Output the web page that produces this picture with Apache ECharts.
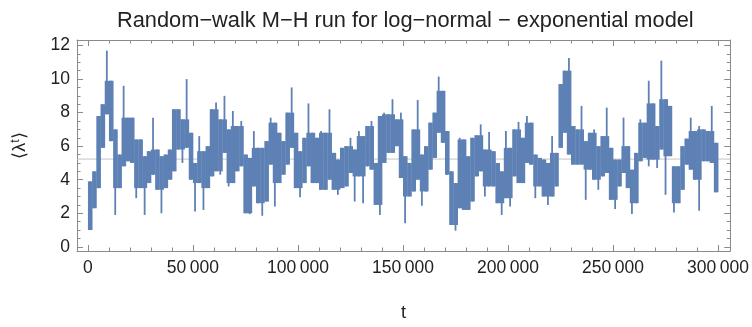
<!DOCTYPE html>
<html><head><meta charset="utf-8">
<script src="https://cdn.jsdelivr.net/npm/echarts@6/dist/echarts.min.js"></script>
<style>html,body{margin:0;padding:0;background:#fff}#c{width:752px;height:327px}</style>
</head><body><div id="c"></div>
<script>
// Segment start times (t) of the trace, each segment spans to the next start
const tStart = [0,2000,4000,6000,8000,10000,12000,14000,16000,18000,20000,22000,24000,26000,28000,30000,32000,34000,36000,38000,
40000,42000,44000,46000,48000,50000,52000,54000,56000,58000,60000,62000,64000,66000,68000,70000,72000,74000,76000,78000,
80000,82000,84000,86000,88000,90000,92000,94000,96000,98000,100000,102000,104000,106000,108000,110000,112000,114000,116000,118000,
120000,122000,124000,126000,128000,130000,132000,134000,136000,138000,140000,142000,144000,146000,148000,150000,152000,154000,156000,158000,
160000,162000,164000,166000,168000,170000,172000,174000,176000,178000,180000,182000,184000,186000,188000,190000,192000,194000,196000,198000,
200000,202000,204000,206000,208000,210000,212000,214000,216000,218000,220000,222000,224000,226000,228000,230000,232000,234000,236000,238000,
240000,242000,244000,246000,248000,250000,252000,254000,256000,258000,260000,262000,264000,266000,268000,270000,272000,274000,276000,278000,
280000,282000,284000,286000,288000,290000,292000,294000,296000,298000];
const tEnd = 300000;
// lowest value reached by the chain within each segment
const lambdaLow = [1.0,2.3,3.5,5.9,7.9,6.3,1.9,3.5,4.8,5.1,5.0,2.9,3.5,1.9,3.8,4.3,3.4,2.0,3.5,4.0,
4.5,5.8,5.0,5.9,4.0,2.1,3.8,2.2,3.5,4.2,4.5,4.3,5.6,3.6,3.8,4.5,4.8,2.0,1.95,3.6,
2.6,1.85,2.7,4.9,2.4,3.8,4.3,4.9,5.9,3.5,2.95,3.8,4.8,3.8,3.8,3.4,3.4,4.0,3.4,3.1,
3.5,3.6,4.4,2.7,4.2,2.6,4.8,4.6,2.5,1.9,5.0,5.6,5.6,6.0,4.1,1.4,3.0,3.3,4.0,2.45,
3.3,4.6,5.3,6.8,6.2,4.3,1.3,0.96,2.3,2.2,2.2,2.7,4.2,4.5,3.0,3.6,3.6,2.6,1.9,2.9,
2.4,4.2,3.8,3.8,5.0,4.9,2.9,3.6,3.0,2.5,3.0,3.6,5.9,6.8,5.5,4.9,4.9,4.9,2.8,4.6,
4.0,3.4,4.2,4.4,2.8,2.25,3.6,4.4,3.5,1.95,2.6,5.1,5.3,4.8,5.2,4.7,5.8,3.1,5.4,2.05,
2.6,3.4,4.9,4.6,4.0,2.15,5.1,5.1,5.0,3.25];
// highest value reached by the chain within each segment
const lambdaHigh = [3.9,4.5,7.8,8.5,11.7,9.9,7.0,5.5,9.6,7.7,7.7,6.4,6.4,5.4,5.7,7.7,5.8,5.4,5.5,5.8,
8.2,8.2,7.6,10.0,6.8,5.0,6.6,5.7,6.0,8.2,8.6,7.6,9.0,7.0,8.1,7.2,7.5,5.5,5.3,6.9,
5.9,5.9,6.3,7.7,7.4,6.8,6.3,8.0,9.5,6.8,5.7,6.5,8.55,6.8,6.5,6.9,6.8,8.2,5.6,5.2,
5.9,6.0,6.5,5.8,6.9,6.6,7.2,7.5,5.0,7.8,8.0,7.9,8.8,7.6,8.0,5.4,5.0,7.0,8.75,5.5,
6.0,7.4,8.0,10.15,9.3,6.9,4.5,3.8,6.5,6.4,5.4,6.5,6.65,7.3,5.8,6.85,5.7,5.0,4.5,6.9,
5.9,7.0,7.45,6.5,7.8,7.4,5.5,5.3,5.2,5.0,6.6,5.6,9.7,10.5,11.25,7.2,7.0,8.4,6.3,6.8,
7.0,6.0,6.6,8.3,5.9,5.2,5.2,7.7,6.0,4.6,5.6,7.6,7.4,9.9,8.55,7.2,11.1,8.8,8.4,4.8,
4.8,6.0,6.45,7.7,6.9,7.2,7.0,6.9,8.4,6.2];
const meanLambda = 5.23;
const xMajor = [0,50000,100000,150000,200000,250000,300000];
const xMinor = [0,10000,20000,30000,40000,50000,60000,70000,80000,90000,100000,110000,120000,130000,140000,150000,160000,170000,180000,190000,200000,210000,220000,230000,240000,250000,260000,270000,280000,290000,300000];
const yMajor = [0,2,4,6,8,10,12];
const yMinor = [0,0.5,1,1.5,2,2.5,3,3.5,4,4.5,5,5.5,6,6.5,7,7.5,8,8.5,9,9.5,10,10.5,11,11.5,12];

const X_MIN = -5200, X_MAX = 305800, Y_MIN = -0.25, Y_MAX = 12.33;
const COLOR = '#5E81B5', FRAME = '#8a8a8a', TXT = '#222';
const FONT = 'Liberation Sans';

const n = tStart.length;
const segData = tStart.map((t, i) => {
  const lp = i > 0 ? lambdaLow[i-1] : lambdaLow[i], ln = i < n-1 ? lambdaLow[i+1] : lambdaLow[i];
  const hp = i > 0 ? lambdaHigh[i-1] : lambdaHigh[i], hn = i < n-1 ? lambdaHigh[i+1] : lambdaHigh[i];
  // dense core of the segment (part shared with a neighbour); the rest are thin excursions
  const coreLo = Math.max(lambdaLow[i], Math.min(lp, ln));
  const coreHi = Math.min(lambdaHigh[i], Math.max(hp, hn));
  return [t, lambdaLow[i], lambdaHigh[i], i + 1 < n ? tStart[i + 1] : tEnd, Math.min(coreLo, coreHi), Math.max(coreLo, coreHi)];
});

function fmt(v){ if (v === 0) return '0'; const s = String(v); return s.slice(0, s.length-3) + '\u2009' + s.slice(-3); }

function xAx(pos, values, len, main) {
  return {type:'value', position:pos, min:X_MIN, max:X_MAX,
    axisLine:{show:main, onZero:false, lineStyle:{color:FRAME, width:1}},
    axisTick:{show:true, inside:true, length:len, customValues:values, lineStyle:{color:FRAME, width:1}},
    axisLabel:{show: main && pos==='bottom', customValues:xMajor, formatter:fmt, color:TXT, fontFamily:FONT, fontSize:17.5, margin:8},
    splitLine:{show:false},
    name: (main && pos==='bottom') ? 't' : '', nameLocation:'middle', nameGap:53,
    nameTextStyle:{color:TXT, fontFamily:FONT, fontSize:18}};
}
function yAx(pos, values, len, main) {
  return {type:'value', position:pos, min:Y_MIN, max:Y_MAX,
    axisLine:{show:main, onZero:false, lineStyle:{color:FRAME, width:1}},
    axisTick:{show:true, inside:true, length:len, customValues:values, lineStyle:{color:FRAME, width:1}},
    axisLabel:{show: main && pos==='left', customValues:yMajor, color:TXT, fontFamily:FONT, fontSize:17.5, margin:7},
    splitLine:{show:false},
    name: (main && pos==='left') ? '{a|\u27E8\u03BB}{s|t}{a|\u27E9}' : '', nameLocation:'middle', nameGap:46, nameRotate:90,
    nameTextStyle:{color:TXT, fontFamily:FONT, fontSize:18, rich:{a:{fontFamily:FONT,fontSize:18,color:TXT}, s:{fontFamily:FONT,fontSize:12,color:TXT,verticalAlign:'top', padding:[0,0,9,0]}}}};
}

const chart = echarts.init(document.getElementById('c'), null, {renderer:'canvas'});
chart.setOption({
  animation:false,
  title:{text:'Random\u2212walk M\u2212H run for log\u2212normal \u2212 exponential model', left:112, top:5,
    textStyle:{fontFamily:FONT, fontSize:21.8, fontWeight:'normal', color:TXT}},
  grid:{left:77, right:19, top:40, bottom:69},
  xAxis:[xAx('bottom', xMajor, 6, true), xAx('bottom', xMinor, 3.5, false), xAx('top', xMajor, 6, true), xAx('top', xMinor, 3.5, false)],
  yAxis:[yAx('left', yMajor, 6, true), yAx('left', yMinor, 3.5, false), yAx('right', yMajor, 6, true), yAx('right', yMinor, 3.5, false)],
  series:[
    {type:'custom', z:1, silent:true, data:[[meanLambda]], encode:{y:0},
     renderItem:function(params, api){
       const cs = params.coordSys;
       const y = api.coord([0, api.value(0)])[1];
       return {type:'line', shape:{x1:cs.x, y1:y, x2:cs.x + cs.width, y2:y}, style:{stroke:'#c4c4c4', lineWidth:1}};
     }},
    {type:'custom', z:3, data:segData, encode:{x:[0,3], y:[1,2]},
     renderItem:function(params, api){
       const t0 = api.value(0), t1 = api.value(3);
       const a = api.coord([t0, api.value(5)]);
       const b = api.coord([t1, api.value(4)]);
       const m1 = api.coord([t0 + (t1 - t0) * 0.5, api.value(2)]);
       const m2 = api.coord([t0 + (t1 - t0) * 0.5, api.value(1)]);
       return {type:'group', children:[
         {type:'rect', shape:{x:a[0], y:a[1], width:b[0]-a[0]+0.4, height:b[1]-a[1]}, style:{fill:COLOR}},
         {type:'rect', shape:{x:m1[0]-0.9, y:m1[1], width:1.8, height:m2[1]-m1[1]}, style:{fill:COLOR}}
       ]};
     }}
  ]
});
</script></body></html>
